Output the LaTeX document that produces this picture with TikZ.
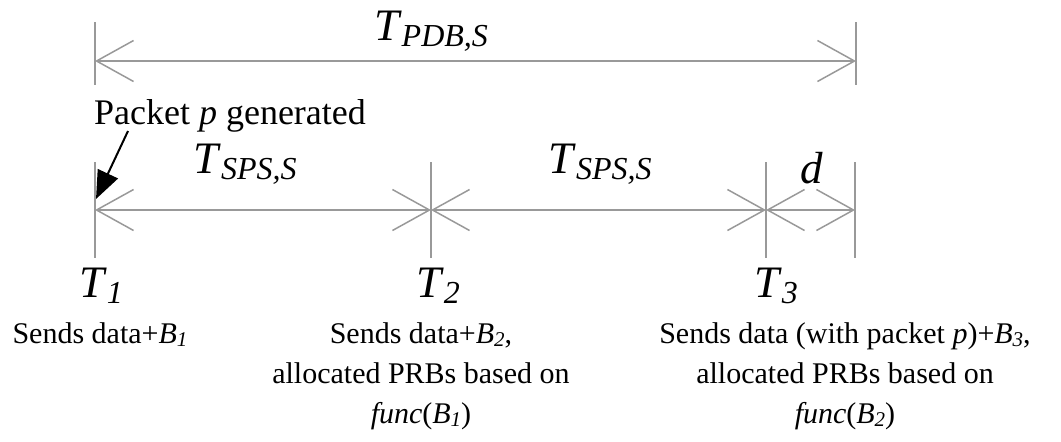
\documentclass[tikz,border=0pt]{standalone}
\usepackage{fontspec}
\setmainfont{Liberation Serif}
\usepackage{tikz}
\usetikzlibrary{positioning,calc}
\usetikzlibrary{arrows.meta}
\definecolor{linegray}{rgb}{0.6,0.6,0.6}

% lowered italic subscripts for the time labels and the B's
\newcommand{\tsub}[1]{\raisebox{-3pt}{\fontsize{16}{16}\selectfont\textit{#1}}}
\newcommand{\bsub}[1]{\raisebox{-1.5pt}{\fontsize{10.5}{10.5}\selectfont\textit{#1}}}

\begin{document}
\begin{tikzpicture}[
  x = 0.5pt,
  y = -0.5pt,
  span/.style = {
    draw = linegray,
    line width = 0.75pt,
    <->,
  },
  tickline/.style = {
    draw = linegray,
    line width = 0.75pt,
  },
  tlabel/.style = {
    anchor = base,
    inner sep = 0pt,
    font = \fontsize{22.5}{24}\selectfont,
  },
  note/.style = {
    anchor = base,
    inner sep = 0pt,
    align = center,
    font = \fontsize{15}{20}\selectfont,
  },
  pointer/.style = {
    draw = black,
    line width = 1pt,
    -{Triangle[length=14pt,width=11pt]},
  },
  >={Straight Barb[length=18.5pt,width=20.5pt]},
]
  \useasboundingbox (0,0) rectangle (1061,441);

  % PDB span
  \coordinate (a0) at (95,61);
  \coordinate (a1) at (856,61);
  \foreach \p in {a0,a1}
    \draw[tickline] (\p) ++(0,-39) -- ++(0,63);
  \path[span] (a0) -- (a1);
  \node[tlabel] (pdb) at (431,40) {\textit{T}\tsub{PDB,S}};

  % SPS periods
  \coordinate (m1) at (95,210);
  \coordinate (m2) at (431,210);
  \coordinate (m3) at (766,210);
  \coordinate (m4) at (855,210);
  \foreach \p in {m1,m2,m3,m4}
    \draw[tickline] (\p) ++(0,-48) -- ++(0,96);
  \path[span] (m1) -- (m2);
  \path[span] (m2) -- (m3);
  \path[span] (m3) -- (m4);
  \node[tlabel] (sps1) at (245,173) {\textit{T}\tsub{SPS,S}};
  \node[tlabel] (sps2) at (600,173) {\textit{T}\tsub{SPS,S}};
  \node[tlabel] (delay) at (812,183) {\textit{d}};

  \node[tlabel,font=\fontsize{18}{20}\selectfont] (pkt) at (230,124) {Packet \textit{p} generated};
  \coordinate (pkt-tail) at (128,131);
  \coordinate (pkt-tip) at (96,199);
  \path[pointer] (pkt-tail) -- (pkt-tip);

  % time instants
  \node[tlabel] (t1) at (101,297) {\textit{T}\tsub{1}};
  \node[tlabel] (t2) at (438,297) {\textit{T}\tsub{2}};
  \node[tlabel] (t3) at (776,297) {\textit{T}\tsub{3}};

  % base of a multi-line note is its last line
  \node[note] (s1) at (100,343) {Sends data+\textit{B}\bsub{1}};
  \node[note] (s2) at (421,423) {Sends data+\textit{B}\bsub{2},\\allocated PRBs based on\\\textit{func}(\textit{B}\bsub{1})};
  \node[note] (s3) at (845,423) {Sends data (with packet \textit{p})+\textit{B}\bsub{3},\\allocated PRBs based on\\\textit{func}(\textit{B}\bsub{2})};

\end{tikzpicture}
\end{document}
